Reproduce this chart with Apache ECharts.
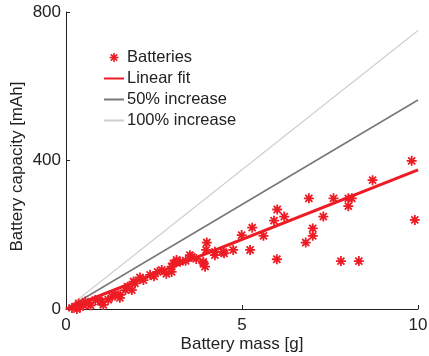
<!DOCTYPE html>
<html>
<head>
<meta charset="utf-8">
<script src="https://cdn.jsdelivr.net/npm/echarts@6/dist/echarts.min.js"></script>
<style>html,body{margin:0;padding:0;background:#fff;}#c{width:429px;height:356px;}</style>
</head>
<body>
<div id="c"></div>
<script>
// ---- data ----
var massG = [0.17,0.27,0.31,0.36,0.40,0.50,0.55,0.64,0.70,0.83,0.97,1.02,1.06,1.20,1.31,1.40,1.53,1.54,1.69,1.75,1.87,1.92,1.96,2.10,2.20,2.39,2.50,2.60,2.72,2.85,3.00,3.00,3.05,3.14,3.24,3.40,3.52,3.57,3.70,3.90,3.90,3.95,3.98,4.00,4.23,4.23,4.47,4.49,4.75,4.99,5.23,5.29,5.61,5.91,5.99,6.00,6.20,6.81,6.90,7.01,7.01,7.31,7.60,7.81,8.02,8.02,8.12,8.32,8.71,9.82,9.91];
var capacityMAh = [3,6,0,15,5,10,20,15,10,24,20,20,11,25,33,40,30,38,51,60,51,74,69,85,78,92,88,100,105,95,100,114,123,132,127,130,145,141,135,123,127,114,159,179,145,154,154,150,159,199,159,219,197,238,134,268,249,179,298,197,217,249,298,129,277,298,298,129,347,399,240];
var lineX = [0, 10];
var fitY = [0, 375];
var inc50Y = [0, 563];
var inc100Y = [0, 750];
var xTicks = [0, 5, 10];
var yTicks = [0, 400, 800];
var seriesNames = ['Batteries', 'Linear fit', '50% increase', '100% increase'];

// asterisk symbol path
function asteriskPath() {
  var parts = [], c = 50, h = 50, t = 9;
  for (var k = 0; k < 4; k++) {
    var a = k * Math.PI / 4, ca = Math.cos(a), sa = Math.sin(a);
    var pts = [[-h,-t],[h,-t],[h,t],[-h,t]].map(function(p){
      return [(c + p[0]*ca - p[1]*sa).toFixed(2), (c + p[0]*sa + p[1]*ca).toFixed(2)];
    });
    parts.push('M' + pts.map(function(p){return p.join(' ');}).join(' L') + ' Z');
  }
  return 'path://' + parts.join(' ');
}
var AST = asteriskPath();
function pairs(xs, ys){ return xs.map(function(x,i){return [x, ys[i]];}); }

var red = '#ED1C24';
var font = 'Liberation Sans, Arial, sans-serif';
var txt = '#222';
var chart = echarts.init(document.getElementById('c'), null, {renderer:'canvas'});
chart.setOption({
  animation: false,
  backgroundColor: '#fff',
  textStyle: {fontFamily: font},
  grid: {left: 66, right: 11, top: 12, bottom: 47, containLabel: false, outerBoundsMode: 'none'},
  legend: {
    orient: 'vertical', left: 98, top: 44, itemWidth: 20, itemHeight: 9, itemGap: 4,
    textStyle: {fontFamily: font, fontSize: 16.5, color: txt, padding: [0,0,0,-2]},
    data: [
      {name: seriesNames[0], icon: AST},
      {name: seriesNames[1], itemStyle: {opacity: 0}},
      {name: seriesNames[2], itemStyle: {opacity: 0}},
      {name: seriesNames[3], itemStyle: {opacity: 0}}
    ]
  },
  xAxis: {
    type: 'value', min: xTicks[0], max: xTicks[xTicks.length-1], interval: 5,
    name: 'Battery mass [g]', nameLocation: 'middle', nameGap: 27, nameMoveOverlap: false,
    nameTextStyle: {fontFamily: font, fontSize: 17, color: txt},
    axisLine: {lineStyle: {color: '#222', width: 1}},
    axisTick: {inside: true, length: 4, lineStyle: {color: '#222'}},
    axisLabel: {fontFamily: font, fontSize: 17, color: txt, margin: 8},
    splitLine: {show: false}
  },
  yAxis: {
    type: 'value', min: yTicks[0], max: yTicks[yTicks.length-1], interval: 400,
    name: 'Battery capacity [mAh]', nameLocation: 'middle', nameGap: 40, nameMoveOverlap: false,
    nameTextStyle: {fontFamily: font, fontSize: 17, color: txt, padding: [0,12,0,0]},
    axisLine: {show: true, lineStyle: {color: '#222', width: 1}},
    axisTick: {show: true, inside: true, length: 4, lineStyle: {color: '#222'}},
    axisLabel: {fontFamily: font, fontSize: 17, color: txt, margin: 5},
    splitLine: {show: false}
  },
  series: [
    {
      name: seriesNames[3], type: 'line', data: pairs(lineX, inc100Y), symbol: 'none',
      lineStyle: {color: '#cfcfcf', width: 1.2}, itemStyle: {color: '#cfcfcf'}, z: 1
    },
    {
      name: seriesNames[2], type: 'line', data: pairs(lineX, inc50Y), symbol: 'none',
      lineStyle: {color: '#777', width: 1.5}, itemStyle: {color: '#777'}, z: 2
    },
    {
      name: seriesNames[0], type: 'scatter', data: pairs(massG, capacityMAh),
      symbol: AST, symbolSize: 10, itemStyle: {color: red, opacity: 1}, z: 3
    },
    {
      name: seriesNames[1], type: 'line', data: pairs(lineX, fitY), symbol: 'none',
      lineStyle: {color: red, width: 3}, itemStyle: {color: red}, z: 4
    }
  ]
});
</script>
</body>
</html>
